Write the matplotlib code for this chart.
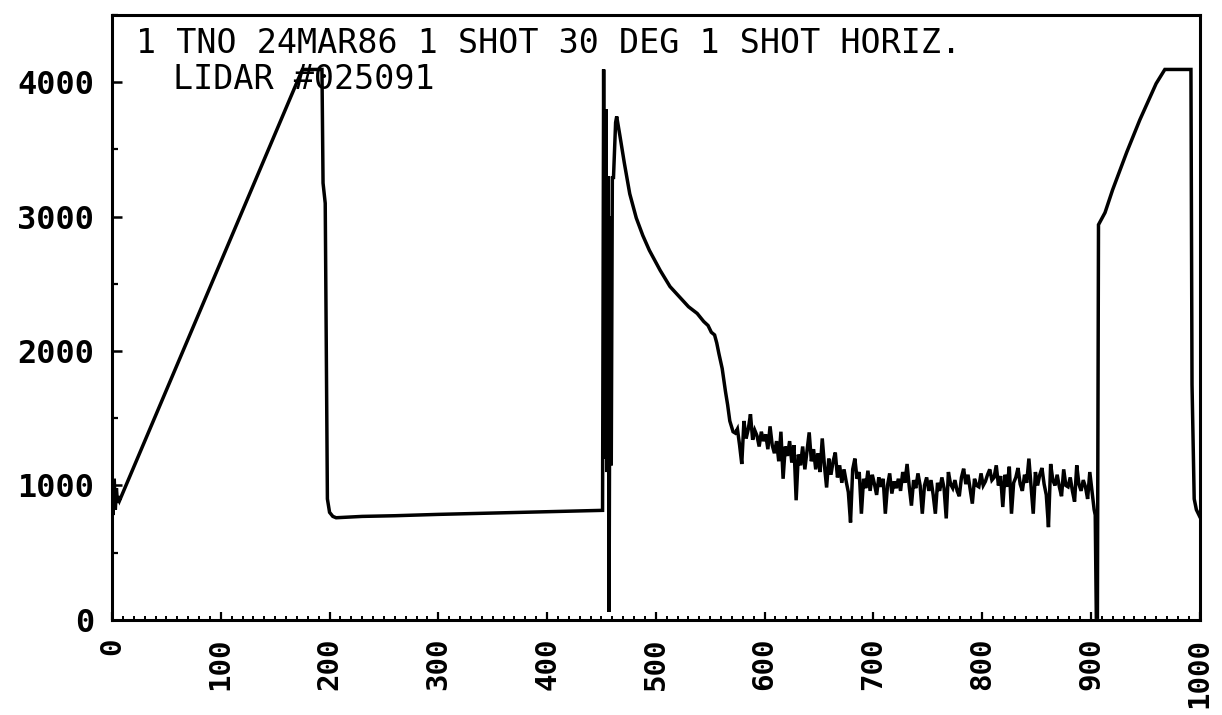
import numpy as np
import matplotlib.pyplot as plt
from matplotlib.ticker import MultipleLocator

plt.rcParams.update({
    'font.family': 'DejaVu Sans Mono',
    'axes.linewidth': 2.2,
})

TITLE_1 = '1 TNO 24MAR86 1 SHOT 30 DEG 1 SHOT HORIZ.'
TITLE_2 = 'LIDAR #025091'

# start of record, linear ramp, clipped top and the drop
HEAD_X = [0, 1, 2, 3, 4, 5, 6, 7, 175, 193, 194, 196, 198, 200, 203, 206,
          230, 260, 300, 350, 400, 451]
HEAD_Y = [1100, 780, 1050, 820, 980, 870, 920, 890, 4095, 4095, 3250, 3100,
          900, 800, 770, 760, 770, 775, 785, 795, 805, 815]

# burst around channel 455 and the decaying return
PEAK_X = [452, 453, 454, 455, 456, 457, 458, 459, 460, 461, 462, 463, 464,
          467, 471, 476, 482, 488, 494, 504, 513, 522, 530, 538, 544, 548,
          551, 554, 556, 558, 561, 564, 566, 568, 571, 573]
PEAK_Y = [4095, 1200, 3800, 1100, 3300, 60, 3000, 1150, 3300, 3280, 3500,
          3700, 3745, 3600, 3400, 3170, 2990, 2860, 2750, 2600, 2480, 2400,
          2330, 2280, 2220, 2190, 2140, 2120, 2060, 1980, 1870, 1700, 1600,
          1480, 1400, 1390]

# noisy background, every 2nd channel from 575 to 903
NOISE_X = list(range(575, 905, 2))
NOISE_Y = [1420, 1300, 1160, 1480, 1350, 1420, 1530, 1340, 1410, 1370,
           1290, 1400, 1330, 1380, 1270, 1440, 1300, 1240,
           1330, 1180, 1400, 1050, 1290, 1220, 1330, 1170, 1300, 890,
           1230, 1150, 1290, 1120, 1260, 1395,
           1180, 1270, 1120, 1240, 1100, 1350, 1150, 985, 1200, 1080,
           1180, 1245, 1060, 1150, 1020, 1120, 1030, 950, 725, 1120,
           1200, 1050, 1100, 790, 1050, 980, 1110, 960, 1080, 1010,
           930, 1060, 990, 1050, 790, 1000, 1090, 940, 1030, 980,
           1050, 960, 1100, 1020, 1160, 990, 850, 1040, 980, 1090,
           1000, 790, 1000, 1060, 960, 1040, 930, 790, 1020, 960,
           1060, 980, 755, 1100, 1010, 980, 1040, 960, 920, 1060,
           1125, 1010, 1080, 970, 865, 1050, 1000, 990, 1090, 1000,
           1030, 1080, 1120, 1040, 1060, 1150, 1000, 1070, 840, 1080,
           990, 1140, 790, 1020, 1060, 1130, 1010, 960, 1080, 1020,
           1200, 1000, 790, 1100, 1000, 1080, 1130, 1010, 930, 690,
           1160, 1040, 1000, 1080, 990, 920, 1120, 1000, 990, 1060,
           960, 880, 1150, 1010, 960, 1040, 990, 900, 1100, 960, 820]

# second pulse at the end of the record
TAIL_X = [904, 905, 906, 907, 913, 920, 933, 945, 960, 968, 992, 993, 995,
          997, 1000]
TAIL_Y = [780, 20, 20, 2940, 3030, 3200, 3480, 3720, 3990, 4095, 4095,
          1750, 900, 820, 770]

x = HEAD_X + PEAK_X + NOISE_X + TAIL_X
y = HEAD_Y + PEAK_Y + NOISE_Y + TAIL_Y

fig = plt.figure(figsize=(12.22, 7.15), dpi=100)
ax = fig.add_axes([0.0917, 0.133, 0.890, 0.846])

ax.plot(x, y, color='black', lw=2.5, solid_joinstyle='miter')

ax.set_xlim(0, 1000)
ax.set_ylim(0, 4500)
ax.xaxis.set_major_locator(MultipleLocator(100))
ax.xaxis.set_minor_locator(MultipleLocator(10))
ax.yaxis.set_major_locator(MultipleLocator(1000))
ax.yaxis.set_minor_locator(MultipleLocator(500))

ax.tick_params(axis='x', which='major', direction='in', length=6, width=1.6,
               pad=13, labelsize=21, labelrotation=90)
ax.tick_params(axis='x', which='minor', direction='in', length=3, width=1.4)
ax.tick_params(axis='y', which='major', direction='in', length=7, width=1.8,
               pad=13, labelsize=23)
ax.tick_params(axis='y', which='minor', direction='in', length=4, width=1.6)
for lab in ax.get_xticklabels() + ax.get_yticklabels():
    lab.set_fontweight('bold')

ax.text(0.022, 0.953, TITLE_1, transform=ax.transAxes, fontsize=24,
        va='center', ha='left')
ax.text(0.056, 0.893, TITLE_2, transform=ax.transAxes, fontsize=24,
        va='center', ha='left')

fig.savefig('out.png', dpi=100, facecolor='white')
